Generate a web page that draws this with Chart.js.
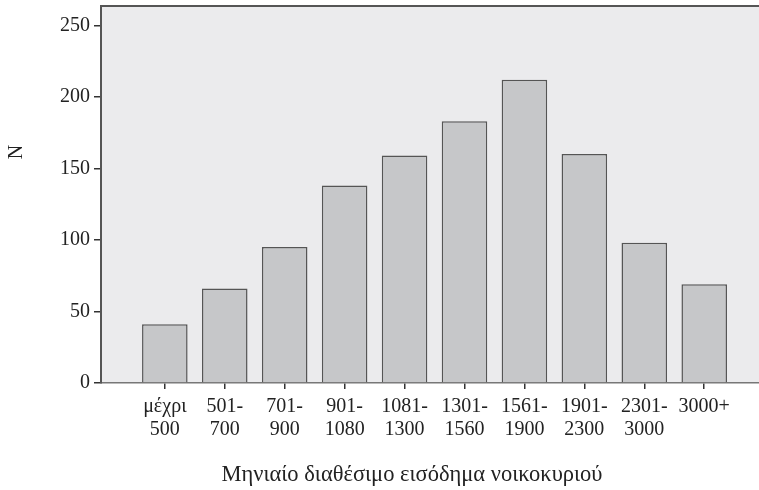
<!DOCTYPE html>
<html>
<head>
<meta charset="utf-8">
<script src="https://cdn.jsdelivr.net/npm/chart.js@4"></script>
<style>
  html, body { margin: 0; padding: 0; background: #fff; }
</style>
</head>
<body>
<canvas id="myChart" width="759" height="490"></canvas>
<script>
const incomeLabels = [
  ["μέχρι", "500"],
  ["501-", "700"],
  ["701-", "900"],
  ["901-", "1080"],
  ["1081-", "1300"],
  ["1301-", "1560"],
  ["1561-", "1900"],
  ["1901-", "2300"],
  ["2301-", "3000"],
  ["3000+"],
];
const counts = [41, 66, 95, 138, 159, 183, 212, 160, 98, 69];
const yTicks = [0, 50, 100, 150, 200, 250];
const xTitle = "Μηνιαίο διαθέσιμο εισόδημα νοικοκυριού";
const yTitle = "N";

const serif = "'Liberation Serif', 'DejaVu Serif', serif";
const textColor = "#222";

// grey plot background, top frame line and the two axis titles
const frame = {
  id: "frame",
  beforeDraw(chart) {
    const { ctx, chartArea: a } = chart;
    ctx.save();
    ctx.fillStyle = "#ebebed";
    ctx.fillRect(a.left, a.top, a.right - a.left, a.bottom - a.top);
    ctx.restore();
  },
  afterDraw(chart) {
    const { ctx, chartArea: a } = chart;
    ctx.save();
    ctx.strokeStyle = "#555";
    ctx.lineWidth = 2;
    ctx.beginPath();
    ctx.moveTo(a.left, a.top);
    ctx.lineTo(a.right, a.top);
    ctx.stroke();

    ctx.fillStyle = textColor;
    ctx.font = "22.5px " + serif;
    ctx.textAlign = "center";
    ctx.textBaseline = "alphabetic";
    ctx.fillText(xTitle, 412, 481);

    ctx.font = "20px " + serif;
    ctx.translate(17, 152);
    ctx.rotate(-Math.PI / 2);
    ctx.textBaseline = "middle";
    ctx.fillText(yTitle, 0, 0);
    ctx.restore();
  },
};

new Chart(document.getElementById("myChart"), {
  type: "bar",
  data: {
    datasets: [
      {
        data: counts.map((v, i) => ({ x: i, y: v })),
        backgroundColor: "#c6c7c9",
        borderColor: "#555",
        borderWidth: 1.5,
        borderSkipped: "bottom",
        barPercentage: 0.76,
        categoryPercentage: 1,
      },
    ],
  },
  options: {
    responsive: false,
    animation: false,
    layout: { padding: { top: 6, left: 0, right: 0, bottom: 0 } },
    plugins: { legend: { display: false }, tooltip: { enabled: false } },
    scales: {
      x: {
        type: "linear",
        offset: false,
        min: -1.065,
        max: 9.914,
        afterBuildTicks: (s) => {
          s.ticks = incomeLabels.map((_, i) => ({ value: i }));
        },
        afterFit: (s) => {
          s.height = 107;
          s.paddingLeft = 0;
          s.paddingRight = 0;
        },
        grid: {
          offset: false,
          drawOnChartArea: false,
          tickLength: 6,
          tickColor: "#333",
          lineWidth: 1.5,
        },
        border: { color: "#777", width: 1.5 },
        ticks: {
          callback: (v) => incomeLabels[v],
          maxRotation: 0,
          autoSkip: false,
          padding: 6,
          color: textColor,
          font: { family: serif, size: 20, lineHeight: 1.15 },
        },
      },
      y: {
        min: 0,
        max: 263.5,
        afterBuildTicks: (s) => {
          s.ticks = yTicks.map((v) => ({ value: v }));
        },
        afterFit: (s) => {
          s.width = 101;
          s.paddingTop = 0;
          s.paddingBottom = 0;
        },
        grid: {
          drawOnChartArea: false,
          tickLength: 7,
          tickColor: "#333",
          lineWidth: 1.5,
        },
        border: { color: "#555", width: 2 },
        ticks: {
          padding: 4,
          color: textColor,
          font: { family: serif, size: 20 },
        },
      },
    },
  },
  plugins: [frame],
});
</script>
</body>
</html>
